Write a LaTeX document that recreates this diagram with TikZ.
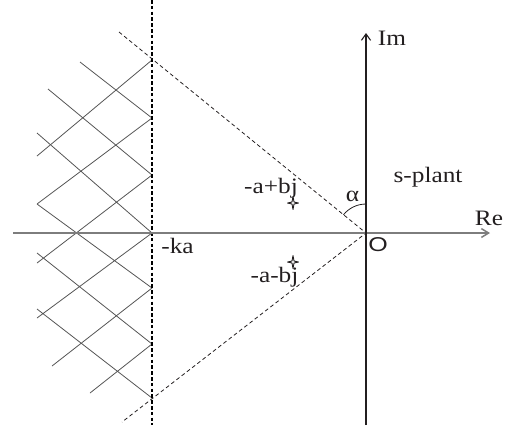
\documentclass[tikz,border=0pt]{standalone}
\usepackage{fontspec}
\setmainfont{Liberation Serif}[FakeStretch=1.15]
\newfontfamily\originfont{Liberation Sans}[FakeStretch=1.25]
\usetikzlibrary{arrows.meta,calc}
\definecolor{spink}{RGB}{35,31,32}
\definecolor{spaxis}{RGB}{125,125,125}
\definecolor{sphatch}{RGB}{85,85,85}
\tikzset{
  imaxis/.style={draw=spink, line width=0.55pt, -{Straight Barb[length=3.2pt,width=4.6pt]}},
  reaxis/.style={draw=spaxis, line width=0.75pt, -{Straight Barb[length=3.6pt,width=4.4pt]}},
  hatch/.style={draw=sphatch, line width=0.4pt},
  guide/.style={draw=spink, line width=0.4pt, dash pattern=on 1.9pt off 1.4pt},
  bound/.style={draw=black, line width=0.6pt, dash pattern=on 1.8pt off 1.1pt},
  lbl/.style={font=\fontsize{11}{13}\selectfont, text=spink, inner sep=0pt, anchor=base},
  sparkle/.pic={
    \draw[spink, line width=0.45pt] (0,-6.5) -- (1,-1) -- (5.5,0) -- (1,1)
      -- (0,6.5) -- (-1,1) -- (-5.5,0) -- (-1,-1) -- cycle;
  },
  every picture/.append style={line join=round}
}
\begin{document}
\begin{tikzpicture}[x=0.5pt, y=-0.5pt]
  \useasboundingbox (0,0) rectangle (506,425);
  % key points
  \coordinate (O) at (366,233);
  \coordinate (ka) at (152,233);
  \coordinate (bdtop) at (152,0);
  \coordinate (bdbot) at (152,425);
  \coordinate (gdup) at (119,32);
  \coordinate (gddn) at (122,422);
  % forbidden region
  \draw[hatch] (80,62) -- (152,118)  (48,89) -- (152,175)  (37,133) -- (152,233)
    (37,204) -- (152,288)  (37,253) -- (152,344)  (37,309) -- (152,398)
    (152,60) -- (37,156)  (152,118) -- (37,204)  (152,175) -- (37,263)
    (152,233) -- (37,318)  (152,288) -- (52,366)  (152,344) -- (90,393);
  \draw[bound] (bdtop) -- (bdbot);
  \draw[guide] (gdup) -- (O) -- (gddn);
  % axes
  \draw[reaxis] (13,233) -- (490,233);
  \draw[imaxis] (366,425) -- (366,33);
  \draw[spink, line width=0.4pt] (O) ++(0,-29) arc (-90:-141:29);
  % poles
  \coordinate (pup) at (293,203);
  \coordinate (pdn) at (293,262);
  \pic at (pup) {sparkle};
  \pic at (pdn) {sparkle};
  % labels
  \node[lbl] (lblim) at (392,45) {Im};
  \node[lbl] (lblre) at (489,225) {Re};
  \node[lbl] (plane) at (428,182) {s-plant};
  \node[lbl] (alpha) at (352.5,201.5) {α};
  \node[lbl] (polup) at (271,193) {-a+bj};
  \node[lbl] (poldn) at (274.5,282) {-a-bj};
  \node[lbl] (lblka) at (177.5,253) {-ka};
  \node[lbl, font=\originfont\fontsize{10}{12}\selectfont] (orig) at (378,251.5) {O};
\end{tikzpicture}
\end{document}
